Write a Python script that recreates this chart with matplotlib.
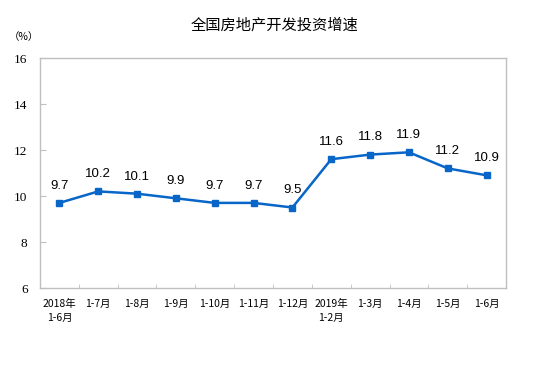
import matplotlib.pyplot as plt

plt.rcParams['font.family'] = ['Noto Sans CJK SC', 'DejaVu Sans']

# Data
months = ['2018年\n1-6月', '1-7月', '1-8月', '1-9月', '1-10月', '1-11月', '1-12月',
          '2019年\n1-2月', '1-3月', '1-4月', '1-5月', '1-6月']
growth = [9.7, 10.2, 10.1, 9.9, 9.7, 9.7, 9.5, 11.6, 11.8, 11.9, 11.2, 10.9]
yticks = [6, 8, 10, 12, 14, 16]

fig = plt.figure(figsize=(5.54, 3.67), dpi=100)
ax = fig.add_axes([40 / 554, 1 - 288 / 367, 466 / 554, 230 / 367])

x = list(range(len(months)))
ax.plot(x, growth, color='#0866c8', linewidth=1.8, marker='s', markersize=5)

for xi, v in zip(x, growth):
    ax.annotate(f'{v}', (xi, v), xytext=(0, 8), textcoords='offset points',
                ha='center', va='bottom', fontsize=9.5, family='Liberation Sans')

ax.set_xlim(-0.5, len(months) - 0.5)
ax.set_ylim(6, 16)
ax.set_yticks(yticks)
ax.set_yticklabels([str(t) for t in yticks], family='Liberation Serif', fontsize=9.5)
ax.set_xticks(x)
ax.set_xticklabels(months, fontsize=7.5, linespacing=1.5)
ax.set_xticks([i + 0.5 for i in x[:-1]], minor=True)
ax.tick_params(axis='x', which='major', length=0, pad=8)
ax.tick_params(axis='x', which='minor', direction='in', length=3, color='#bfbfbf')
ax.tick_params(axis='y', direction='in', length=4, color='#bfbfbf', pad=9)

for s in ax.spines.values():
    s.set_color('#bfbfbf')
    s.set_linewidth(1)

fig.text(275 / 554, 1 - 25 / 367, '全国房地产开发投资增速', ha='center', va='center', fontsize=11)
fig.text(24 / 554, 1 - 37 / 367, '（%）', ha='center', va='center', fontsize=7.5)

fig.savefig('out.png', dpi=100)
